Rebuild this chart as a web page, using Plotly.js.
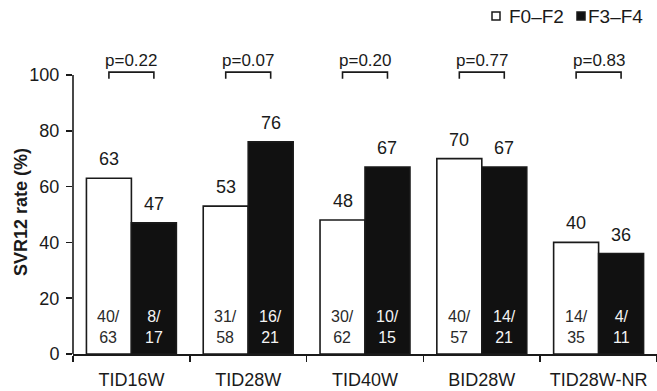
<!DOCTYPE html>
<html>
<head>
<meta charset="utf-8">
<script src="https://cdn.plot.ly/plotly-3.0.1.min.js"></script>
<style>
  html, body { margin: 0; padding: 0; background: #fff; }
  #chart { width: 657px; height: 391px; }
</style>
</head>
<body>
<div id="chart"></div>
<script>
// SVR12 rates by regimen, split by fibrosis stage
const categories = ['TID16W', 'TID28W', 'TID40W', 'BID28W', 'TID28W-NR'];
const rateF02 = [63, 53, 48, 70, 40];
const rateF34 = [47, 76, 67, 67, 36];
const numF02 = [40, 31, 30, 40, 14];
const denF02 = [63, 58, 62, 57, 35];
const numF34 = [8, 16, 10, 14, 4];
const denF34 = [17, 21, 15, 21, 11];
const pValues = ['0.22', '0.07', '0.20', '0.77', '0.83'];
const seriesNames = ['F0\u2013F2', 'F3\u2013F4'];
const yTicks = [0, 20, 40, 60, 80, 100];
const yTitle = 'SVR12 rate (%)';

const FONT = '"Liberation Sans", Arial, sans-serif';
const INK = '#1a1a1a';
const BAR_GAP = 0.23;
const half = (1 - BAR_GAP) / 4;   // offset of each bar centre from category centre
const yMax = 111.8;

const traces = [
  {
    type: 'bar', name: seriesNames[0], x: categories, y: rateF02,
    marker: { color: '#ffffff', line: { color: INK, width: 1.6 } },
    hoverinfo: 'skip'
  },
  {
    type: 'bar', name: seriesNames[1], x: categories, y: rateF34,
    marker: { color: '#111111', line: { color: INK, width: 1.6 } },
    hoverinfo: 'skip'
  }
];

const annotations = [];
const shapes = [];

categories.forEach((c, i) => {
  const xw = i - half, xb = i + half;
  // value labels above bars
  annotations.push({ x: xw, y: rateF02[i], xref: 'x', yref: 'y', text: String(rateF02[i]),
    showarrow: false, yanchor: 'bottom', yshift: 7, font: { family: FONT, size: 18, color: INK } });
  annotations.push({ x: xb, y: rateF34[i], xref: 'x', yref: 'y', text: String(rateF34[i]),
    showarrow: false, yanchor: 'bottom', yshift: 7, font: { family: FONT, size: 18, color: INK } });
  // patient counts inside bars
  annotations.push({ x: xw, y: 9.5, xref: 'x', yref: 'y', text: numF02[i] + '/<br>' + denF02[i],
    showarrow: false, yanchor: 'middle', font: { family: FONT, size: 16, color: '#2a2a2a' } });
  annotations.push({ x: xb, y: 9.5, xref: 'x', yref: 'y', text: numF34[i] + '/<br>' + denF34[i],
    showarrow: false, yanchor: 'middle', font: { family: FONT, size: 16, color: '#f4f4f4' } });
  // p-value brackets
  shapes.push({ type: 'path', xref: 'x', yref: 'y',
    path: `M ${xw} 98.6 L ${xw} 101 L ${xb} 101 L ${xb} 98.6`,
    line: { color: INK, width: 1.6 } });
  annotations.push({ x: i, y: 101, xref: 'x', yref: 'y', text: 'p=' + pValues[i],
    showarrow: false, yanchor: 'bottom', yshift: 0, font: { family: FONT, size: 17, color: INK } });
});

// y axis line, stopping at 100
shapes.push({ type: 'line', xref: 'paper', yref: 'y', x0: 0, x1: 0, y0: 0, y1: 100,
  line: { color: INK, width: 1.6 } });

// legend drawn as swatches + labels
const W = 657 - 73, H = 391 - 42 - 37;
const px = v => (v - 73) / W;
const py = v => (354 - v) / H;
shapes.push({ type: 'rect', xref: 'paper', yref: 'paper', x0: px(492), x1: px(500), y0: py(20), y1: py(12),
  fillcolor: '#ffffff', line: { color: INK, width: 1.5 } });
shapes.push({ type: 'rect', xref: 'paper', yref: 'paper', x0: px(577), x1: px(585), y0: py(20), y1: py(12),
  fillcolor: '#111111', line: { color: INK, width: 1.5 } });
annotations.push({ x: px(507), y: py(16), xref: 'paper', yref: 'paper', text: seriesNames[0],
  showarrow: false, xanchor: 'left', yanchor: 'middle', font: { family: FONT, size: 19, color: INK } });
annotations.push({ x: px(586), y: py(16), xref: 'paper', yref: 'paper', text: seriesNames[1],
  showarrow: false, xanchor: 'left', yanchor: 'middle', font: { family: FONT, size: 19, color: INK } });

// vertical axis title
annotations.push({ x: px(21), y: py(212), xref: 'paper', yref: 'paper', text: '<b>' + yTitle + '</b>',
  textangle: -90, showarrow: false, xanchor: 'center', yanchor: 'middle',
  font: { family: FONT, size: 18, color: INK } });

const layout = {
  width: 657, height: 391,
  margin: { l: 73, r: 0, t: 42, b: 37, pad: 0 },
  paper_bgcolor: '#ffffff', plot_bgcolor: '#ffffff',
  font: { family: FONT, size: 18, color: INK },
  barmode: 'group', bargap: BAR_GAP, bargroupgap: 0,
  showlegend: false,
  xaxis: {
    type: 'category', range: [-0.5, 4.5],
    showline: true, linecolor: INK, linewidth: 1.6,
    ticks: 'outside', tickson: 'boundaries', ticklen: 6, tickwidth: 1.6, tickcolor: INK,
    ticklabelstandoff: 9,
    tickfont: { family: FONT, size: 18, color: INK },
    showgrid: false, zeroline: false, fixedrange: true
  },
  yaxis: {
    range: [0, yMax], tickvals: yTicks, ticktext: yTicks.map(String),
    showline: false, ticks: 'outside', ticklen: 6, tickwidth: 1.6, tickcolor: INK,
    ticklabelstandoff: 3,
    tickfont: { family: FONT, size: 18, color: INK },
    showgrid: false, zeroline: false, fixedrange: true
  },
  shapes: shapes,
  annotations: annotations
};

Plotly.newPlot('chart', traces, layout, { staticPlot: true, displayModeBar: false });
</script>
</body>
</html>
